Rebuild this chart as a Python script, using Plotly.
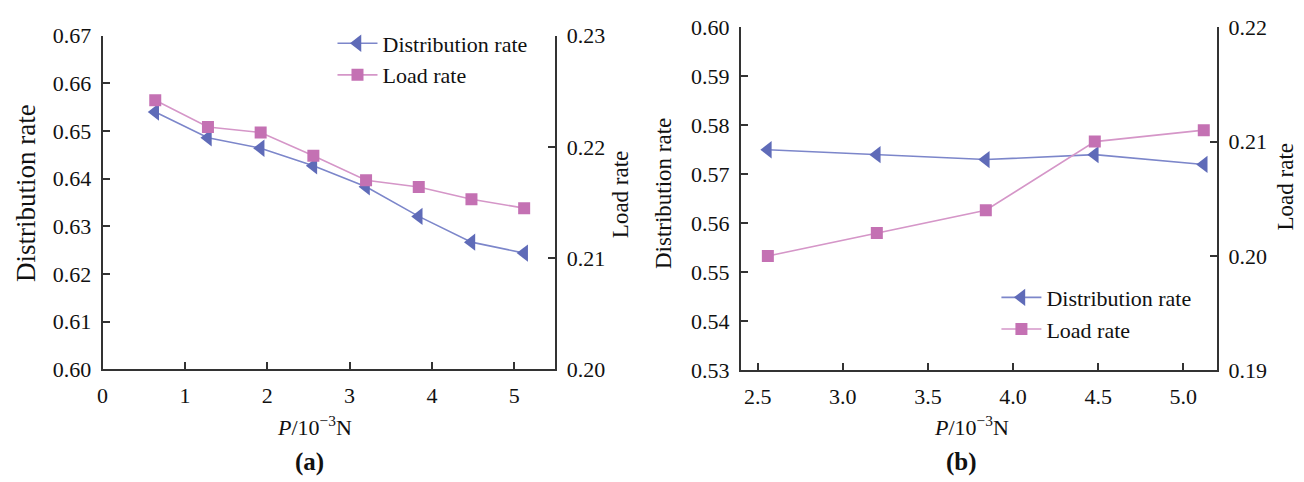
import plotly.graph_objects as go

# ---- data ----
p_a = [0.64, 1.28, 1.92, 2.56, 3.20, 3.84, 4.48, 5.12]
dist_a = [0.6540, 0.6486, 0.6464, 0.6427, 0.6383, 0.6321, 0.6267, 0.6244]
load_a = [0.2242, 0.2218, 0.2213, 0.2192, 0.2170, 0.2164, 0.2153, 0.2145]

p_b = [2.56, 3.20, 3.84, 4.48, 5.12]
dist_b = [0.575, 0.574, 0.573, 0.574, 0.572]
load_b = [0.2000, 0.2020, 0.2040, 0.2100, 0.2110]

xticks_a = [0, 1, 2, 3, 4, 5]
xticks_b = [2.5, 3.0, 3.5, 4.0, 4.5, 5.0]

W, H = 1304, 482
FONT = "Liberation Serif"
AX = "#333333"
BLUE_M, BLUE_L = "#5F6BB8", "#7C86CA"
PINK_M, PINK_L = "#C471B3", "#D596C8"

def px(x):
    return x / W

def py(y):
    return 1 - y / H

fig = go.Figure()

def add(x, y, name, xa, ya, legend, sym, mc, lc, size):
    fig.add_trace(go.Scatter(
        x=x, y=y, name=name, xaxis=xa, yaxis=ya, legend=legend,
        mode="lines+markers",
        line=dict(color=lc, width=1.6),
        marker=dict(symbol=sym, color=mc, size=size, line=dict(width=0)),
    ))

add(p_a, dist_a, "Distribution rate", "x", "y", "legend", "triangle-left", BLUE_M, BLUE_L, 15)
add(p_a, load_a, "Load rate", "x", "y2", "legend", "square", PINK_M, PINK_L, 12)
add(p_b, dist_b, "Distribution rate", "x2", "y3", "legend2", "triangle-left", BLUE_M, BLUE_L, 15)
add(p_b, load_b, "Load rate", "x2", "y4", "legend2", "square", PINK_M, PINK_L, 12)

axcommon = dict(showline=True, linecolor=AX, linewidth=1.6, ticks="inside",
                ticklen=8, tickwidth=1.5, tickcolor=AX, showgrid=False,
                zeroline=False, tickfont=dict(family=FONT, size=22, color="#111"))
xcommon = dict(ticklabelstandoff=5, **axcommon)
ycommon = dict(ticklabelstandoff=5, **axcommon)

fig.update_layout(
    width=W, height=H, margin=dict(l=0, r=0, t=0, b=0),
    paper_bgcolor="white", plot_bgcolor="white",
    showlegend=True,
    xaxis=dict(domain=[px(97), px(552)], range=[0, 5.5], tickvals=xticks_a,
               anchor="y", **xcommon),
    yaxis=dict(domain=[py(377), py(25)], range=[0.60, 0.67], dtick=0.01,
               tickformat=".2f", anchor="x", **ycommon),
    yaxis2=dict(domain=[py(377), py(25)], range=[0.20, 0.23], dtick=0.01,
                tickformat=".2f", overlaying="y", side="right", anchor="x", **ycommon),
    xaxis2=dict(domain=[px(738), px(1217)], range=[2.40, 5.20], tickvals=xticks_b,
                tickformat=".1f", anchor="y3", **xcommon),
    yaxis3=dict(domain=[py(378), py(16)], range=[0.53, 0.60], dtick=0.01,
                tickformat=".2f", anchor="x2", **ycommon),
    yaxis4=dict(domain=[py(378), py(16)], range=[0.19, 0.22], dtick=0.01,
                tickformat=".2f", overlaying="y3", side="right", anchor="x2", **ycommon),
    legend=dict(x=px(328), y=py(11), xanchor="left", yanchor="top",
                font=dict(family=FONT, size=22, color="#111"),
                bgcolor="rgba(0,0,0,0)", tracegroupgap=0, itemwidth=40),
    legend2=dict(x=px(995), y=py(279), xanchor="left", yanchor="top",
                 font=dict(family=FONT, size=22, color="#111"),
                 bgcolor="rgba(0,0,0,0)", tracegroupgap=0, itemwidth=40),
)

def ann(text, x, y, size=22, angle=0):
    fig.add_annotation(text=text, x=px(x), y=py(y), xref="paper", yref="paper",
                       showarrow=False, textangle=angle, xanchor="center", yanchor="middle",
                       font=dict(family=FONT, size=size, color="#111"))

ann("Distribution rate", 20, 191, 27, -90)
ann("Load rate", 618, 193, 23, -90)
ann("Distribution rate", 660, 191, 23, -90)
ann("Load rate", 1285, 185, 23, -90)
ann("<i>P</i>/10<sup>−3</sup>N", 310, 437, 22)
ann("<i>P</i>/10<sup>−3</sup>N", 970, 437, 22)
ann("<b>(a)</b>", 305, 475, 25)
ann("<b>(b)</b>", 960, 475, 25)

fig.write_html("out.html")
